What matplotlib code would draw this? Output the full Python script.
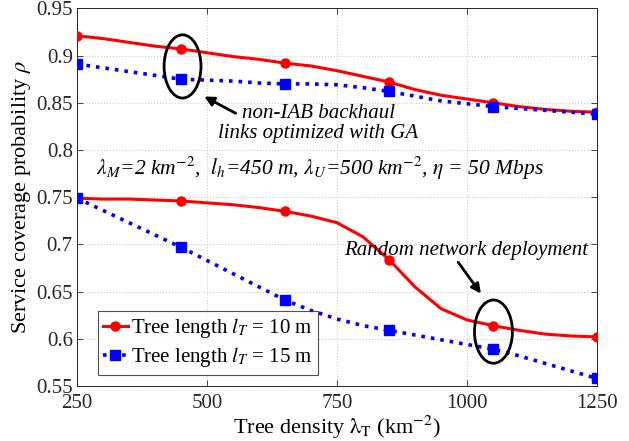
import matplotlib
matplotlib.use("Agg")
import matplotlib.pyplot as plt
from matplotlib.patches import Ellipse

plt.rcParams['font.family'] = ['Liberation Serif', 'DejaVu Serif']
plt.rcParams['mathtext.fontset'] = 'stix'

# Tree density (km^-2) read densely along the curves; markers every 200
x = [250, 300, 350, 400, 450, 500, 550, 600, 650, 700, 750,
     800, 850, 900, 950, 1000, 1050, 1100, 1150, 1200, 1250]

# GA-optimized non-IAB backhaul
opt_10 = [0.921, 0.918, 0.914, 0.910, 0.907, 0.903, 0.899, 0.896, 0.892, 0.889, 0.884,
          0.878, 0.872, 0.864, 0.858, 0.854, 0.850, 0.846, 0.843, 0.841, 0.840]
opt_15 = [0.891, 0.887, 0.883, 0.879, 0.875, 0.874, 0.873, 0.871, 0.870, 0.870, 0.869,
          0.866, 0.862, 0.857, 0.852, 0.849, 0.846, 0.844, 0.842, 0.840, 0.838]
# Random network deployment
rnd_10 = [0.749, 0.748, 0.748, 0.747, 0.746, 0.744, 0.742, 0.739, 0.735, 0.730, 0.723,
          0.708, 0.684, 0.655, 0.632, 0.620, 0.614, 0.609, 0.605, 0.603, 0.602]
rnd_15 = [0.749, 0.736, 0.723, 0.710, 0.697, 0.683, 0.669, 0.655, 0.641, 0.630, 0.621,
          0.614, 0.609, 0.604, 0.599, 0.594, 0.589, 0.582, 0.574, 0.566, 0.558]

labels = [r"Tree length $l_T$ = 10 m", r"Tree length $l_T$ = 15 m"]
xticks = [250, 500, 750, 1000, 1250]
yticks = [0.55, 0.6, 0.65, 0.7, 0.75, 0.8, 0.85, 0.9, 0.95]
ytick_labels = ['0.55', '0.6', '0.65', '0.7', '0.75', '0.8', '0.85', '0.9', '0.95']

fig = plt.figure(figsize=(6.29, 4.41), dpi=100)
ax = fig.add_axes([0.1224, 0.1247, 0.8266, 0.8563])

red_kw = dict(color=(1, 0, 0), lw=2.2, marker='o', markersize=6.5, markevery=4)
blue_kw = dict(color=(0, 0, 1), lw=2.6, ls=':', marker='s', markersize=7.5, markevery=4)

l1, = ax.plot(x, opt_10, **red_kw, zorder=3)
l2, = ax.plot(x, opt_15, **blue_kw, zorder=4)
ax.plot(x, rnd_10, **red_kw, zorder=3)
ax.plot(x, rnd_15, **blue_kw, zorder=4)

ax.set_xlim(250, 1250)
ax.set_ylim(0.55, 0.95)
ax.set_xticks(xticks)
ax.set_xticklabels([str(v) for v in xticks])
ax.set_yticks(yticks)
ax.set_yticklabels(ytick_labels)
ax.tick_params(direction='in', labelsize=15, length=4, width=0.6, colors=(0.15, 0.15, 0.15),
               top=True, right=True)
ax.tick_params(axis='x', pad=6)
ax.tick_params(axis='y', pad=3)
for s in ax.spines.values():
    s.set_color((0.15, 0.15, 0.15))
    s.set_linewidth(0.7)
ax.grid(True, ls=':', color=(0.8, 0.8, 0.8), lw=0.8)
ax.set_axisbelow(True)

ax.set_xlabel(r"Tree density $\mathrm{\lambda_T}$ (km$^{-2}$)", fontsize=16, labelpad=0)
ax.set_ylabel(r"Service coverage probability $\rho$", fontsize=16, labelpad=2)

leg = ax.legend([l1, l2], labels, loc='lower left', bbox_to_anchor=(0.04, 0.03),
                fontsize=15, frameon=True, fancybox=False, edgecolor=(0.15, 0.15, 0.15),
                handlelength=1.2, handletextpad=0.15, borderpad=0.25, labelspacing=0.25,
                borderaxespad=0)
leg.get_frame().set_linewidth(0.8)

# Annotations
ax.add_patch(Ellipse((453, 0.8885), 71, 0.067, fill=False, lw=2, ec='black', zorder=5))
ax.add_patch(Ellipse((1051, 0.6076), 73, 0.067, fill=False, lw=2, ec='black', zorder=5))

ax.annotate("", xy=(490, 0.8580), xytext=(560, 0.8375),
            arrowprops=dict(arrowstyle='-|>', color='black', lw=2, mutation_scale=14))
ax.text(714, 0.828, "non-IAB backhaul\nlinks optimized with GA", ha='center', va='center',
        fontsize=15, style='italic', linespacing=1.05)

ax.annotate("", xy=(1030, 0.6455), xytext=(980, 0.6835),
            arrowprops=dict(arrowstyle='-|>', color='black', lw=2, mutation_scale=14))
ax.text(998, 0.6935, "Random network deployment", ha='center', va='center',
        fontsize=15, style='italic')

ax.text(718, 0.781, r"$\lambda_M$=2 km$^{-2}$,  $l_h$=450 m, $\lambda_U$=500 km$^{-2}$, $\eta$ = 50 Mbps",
        ha='center', va='center', fontsize=15.5, style='italic')

fig.savefig("out.png", dpi=100)
